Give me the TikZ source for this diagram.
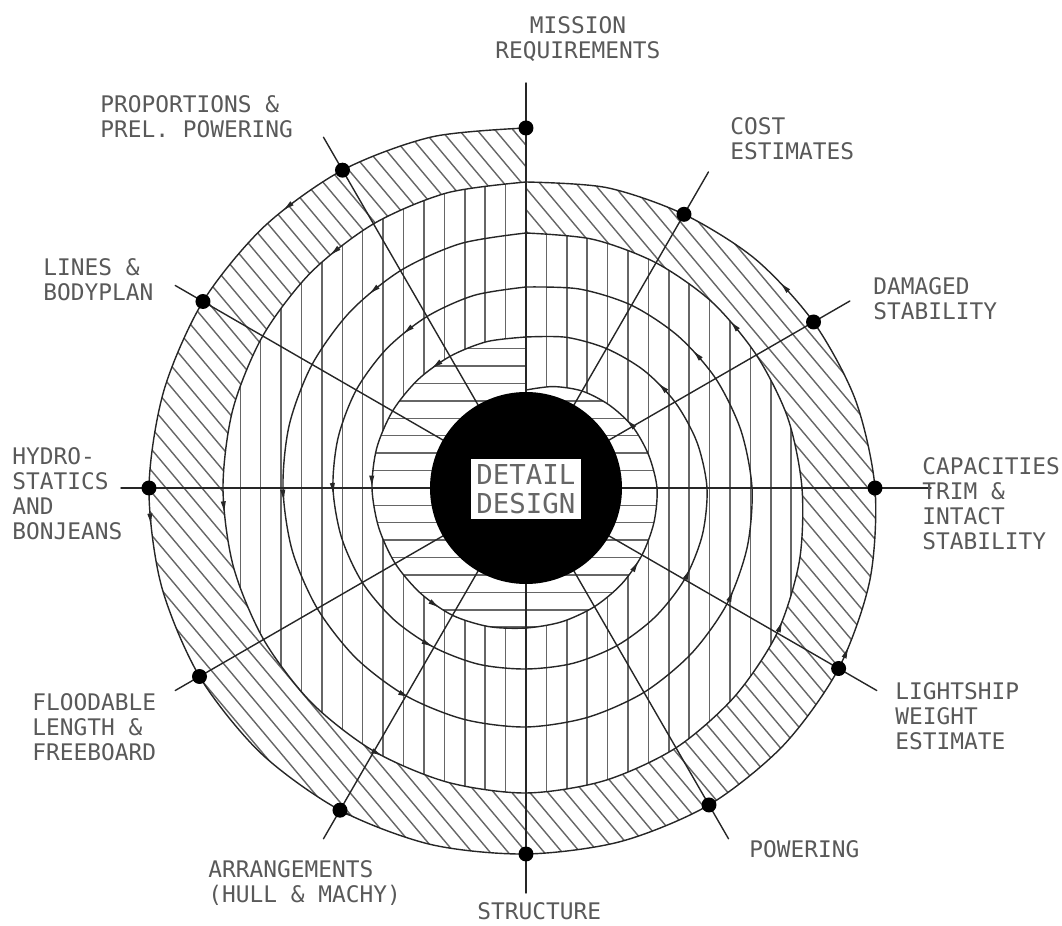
\documentclass[tikz,border=0pt]{standalone}
\usepackage{fontspec}
\setmonofont{DejaVu Sans Mono}
\usetikzlibrary{arrows.meta,decorations.markings}

% one turn of the spiral each, counter-clockwise from the top
\def\turnA{plot[smooth] coordinates {(90:360) (105:363.5) (120:367) (135:370) (150:373) (165:375) (180:377) (195:377.5) (210:377) (225:375) (240:372) (255:369) (270:366) (285:366) (300:366) (315:364) (330:361) (345:356) (360:349) (375:341) (390:332) (405:324) (420:316) (435:311) (450:306)}}
\def\turnB{plot[smooth] coordinates {(90:306) (105:305.5) (120:305) (135:304.5) (150:304) (165:303.5) (180:303) (195:303) (210:303) (225:303.5) (240:304) (255:304.5) (270:305) (285:303) (300:300) (315:295) (330:290) (345:283) (360:276) (375:271) (390:266) (405:263) (420:260) (435:257.5) (450:255)}}
\def\turnC{plot[smooth] coordinates {(90:255) (105:253) (120:251) (135:249) (150:247) (165:245) (180:243) (195:242) (210:241) (225:240.5) (240:240) (255:239.5) (270:239) (285:237.5) (300:236) (315:234) (330:232) (345:229) (360:226) (375:222.5) (390:219) (405:215) (420:211) (435:206) (450:201)}}
\def\turnD{plot[smooth] coordinates {(90:201) (105:199.5) (120:198) (135:197) (150:196) (165:194.5) (180:193) (195:191) (210:189) (225:186.5) (240:184) (255:182.5) (270:181) (285:181.5) (300:182) (315:182.5) (330:183) (345:182.5) (360:181) (375:177) (390:172) (405:166.5) (420:161) (435:156) (450:151)}}
\def\turnE{plot[smooth] coordinates {(90:151) (105:151.5) (120:152) (135:153) (150:154) (165:154.5) (180:154) (195:152.5) (210:151) (225:149) (240:147) (255:143.5) (270:140) (285:138.5) (300:137) (315:135.5) (330:134) (345:132.5) (360:131) (375:127) (390:123) (405:117.5) (420:112) (435:105) (450:98)}}

\begin{document}
\begin{tikzpicture}[x=0.02cm, y=0.02cm, line cap=round, line join=round]
	\tikzset{
		hatch/.style={draw=black!60, line width=0.8pt},
		spiral/.style={draw=black!85, line width=0.8pt, postaction={decorate},
			decoration={markings,
				mark=at position 0.117 with {\arrow{Latex[length=7pt,width=3pt]}},
				mark=at position 0.275 with {\arrow{Latex[length=7pt,width=3pt]}},
				mark=at position 0.44 with {\arrow{Latex[length=7pt,width=3pt]}},
				mark=at position 0.70 with {\arrow{Latex[length=7pt,width=3pt]}},
				mark=at position 0.875 with {\arrow{Latex[length=7pt,width=3pt]}}}},
		radial/.style={draw=black!85, line width=0.8pt},
		stage/.style={circle, fill=black, inner sep=0pt, minimum size=0.3cm},
		lbl/.style={font=\fontsize{13pt}{14.2pt}\selectfont\ttfamily, text=black!65, inner sep=0pt, align=left}
	}
	
	\useasboundingbox (-526,-438) rectangle (536,488);
	\coordinate (c) at (0,0);
	
	% Outer band: diagonal hatching
	\begin{scope}[even odd rule]
		\clip \turnA -- cycle \turnB -- cycle;
		\foreach \x in {-900,-882,...,900}
		\draw[hatch] (\x-400,476) -- (\x+400,-476);
	\end{scope}
	
	% Middle turns: vertical hatching
	\begin{scope}[even odd rule]
		\clip \turnB -- cycle \turnE -- cycle;
		\foreach \i in {-16,...,16}
		\draw[hatch] (\i*20.4,-320) -- (\i*20.4,320);
	\end{scope}
	
	% Inner turn: horizontal hatching
	\begin{scope}
		\clip \turnE -- cycle;
		\foreach \i in {-10,...,10}
		\draw[hatch] (-170,\i*17.4) -- (170,\i*17.4);
	\end{scope}
	
	% The spiral itself
	\draw[spiral] \turnA;
	\draw[spiral] \turnB;
	\draw[spiral] \turnC;
	\draw[spiral] \turnD;
	\draw[spiral] \turnE;
	
	% Radial lines
	\foreach \name/\ang/\len in {mission/90/405, cost/60/365, damaged/30/374, capacities/0/405,
		lightship/-30/405, powering/-60/405, structure/-90/405, arrangements/-120/405,
		floodable/-150/405, hydro/180/405, lines/150/405, proportions/120/405}{
		\coordinate (\name-end) at (\ang:\len);
		\draw[radial] (c) -- (\name-end);
	}
	
	% Centre
	\fill[black] (c) circle (96);
	\node[fill=white, inner xsep=3pt, inner ysep=3pt, align=center, text=black!60,
	font=\fontsize{15.6pt}{16.4pt}\selectfont\ttfamily] (detail) at (0,-1) {DETAIL\\DESIGN};
	
	% Stages on the spiral
	\foreach \name/\ang/\r in {mission/90/360, cost/60/316, damaged/30/332, capacities/0/349,
		lightship/-30/361, powering/-60/366, structure/-90/366, arrangements/-120/372,
		floodable/-150/377, hydro/180/377, lines/150/373, proportions/120/367}
	\node[stage] (\name) at (\ang:\r) {};
	
	% Labels
	\node[lbl, anchor=north, align=center] (t-mission) at (52,472) {MISSION\\REQUIREMENTS};
	\node[lbl, anchor=north west] (t-cost) at (204,371) {COST\\ESTIMATES};
	\node[lbl, anchor=north west] (t-damaged) at (347,211) {DAMAGED\\STABILITY};
	\node[lbl, anchor=north west] (t-capacities) at (396,31) {CAPACITIES\\TRIM \&\\INTACT\\STABILITY};
	\node[lbl, anchor=north west] (t-lightship) at (369,-194) {LIGHTSHIP\\WEIGHT\\ESTIMATE};
	\node[lbl, anchor=north west] (t-powering) at (223,-352) {POWERING};
	\node[lbl, anchor=north west] (t-structure) at (-49,-414) {STRUCTURE};
	\node[lbl, anchor=north west] (t-arrangements) at (-318,-372) {ARRANGEMENTS\\(HULL \& MACHY)};
	\node[lbl, anchor=north west] (t-floodable) at (-494,-205) {FLOODABLE\\LENGTH \&\\FREEBOARD};
	\node[lbl, anchor=north west] (t-hydro) at (-514,41) {HYDRO-\\STATICS\\AND\\BONJEANS};
	\node[lbl, anchor=north west] (t-lines) at (-483,230) {LINES \&\\BODYPLAN};
	\node[lbl, anchor=north west] (t-proportions) at (-426,393) {PROPORTIONS \&\\PREL. POWERING};
	
\end{tikzpicture}
\end{document}
